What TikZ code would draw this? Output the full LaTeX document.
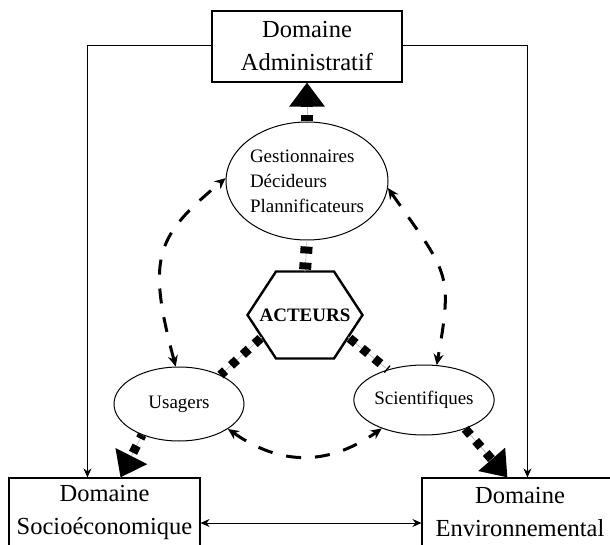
\documentclass[tikz,border=0pt]{standalone}
\usepackage{fontspec}
\setmainfont{Liberation Serif}
\usetikzlibrary{arrows.meta,shapes.geometric,calc}
\begin{document}
\begin{tikzpicture}[x=1pt,y=1pt,
  box/.style={draw, line width=1.1pt, inner sep=0pt, align=center, font=\fontsize{24.5}{33}\selectfont},
  ell/.style={draw, ellipse, line width=1pt, inner sep=0pt, font=\fontsize{19}{25}\selectfont},
  thinarr/.style={line width=1pt, -{Stealth[length=9pt,width=8pt]}},
  dbl/.style={line width=1pt, {Stealth[length=9pt,width=8pt]}-{Stealth[length=9pt,width=8pt]}},
  guide/.style={draw=gray!55, line width=0.7pt},
  squares/.style={line width=9pt, dash pattern=on 8pt off 8pt},
  bigtip/.style={-{Triangle[length=24pt,width=34pt]}},
  arc/.style={line width=3pt, dash pattern=on 15pt off 14pt, {Stealth[length=11pt,width=10pt]}-{Stealth[length=11pt,width=10pt]}},
  hexline/.style={line width=2.4pt, line join=miter}
]
\useasboundingbox (0,0) rectangle (610,544);

% boxes
\node[box, minimum width=190pt, minimum height=71pt] (admin) at (307,497.5) {Domaine\\Administratif};
\node[box, minimum width=191pt, minimum height=68pt] (socio) at (104.5,32) {Domaine\\Socioéconomique};
\node[box, minimum width=196pt, minimum height=68pt] (env) at (520,32) {Domaine\\Environnemental};

% ellipses
\node[ell, minimum width=162pt, minimum height=118pt, align=left] (gest) at (307,363) {Gestionnaires\\Décideurs\\Plannificateurs};
\node[ell, minimum width=130pt, minimum height=74pt] (usa) at (179,140) {Usagers};
\node[ell, minimum width=136pt, minimum height=70pt] (sci) at (424,144) {Scientifiques};

% hexagon
\node[font=\fontsize{19}{22}\selectfont\bfseries, inner sep=0pt] (act) at (305,229) {ACTEURS};
\draw[hexline] ($(act)+(-29,43.5)$) -- ($(act)+(29,43.5)$) -- ($(act)+(57.5,0)$)
  -- ($(act)+(29,-43.5)$) -- ($(act)+(-29,-43.5)$) -- ($(act)+(-57.5,0)$) -- cycle;
\coordinate (hN) at ($(act)+(0,43.5)$);
\coordinate (hSW) at ($(act)+(-43,-22)$);
\coordinate (hSE) at ($(act)+(43,-22)$);
\coordinate (socT) at ($(socio.north west)+(112,0)$);
\coordinate (envT) at ($(env.north west)+(86,0)$);
\coordinate (admB) at (gest.north |- admin.south);

% thin connectors
\draw[thinarr] ([yshift=1pt]admin.west) -| ($(socio.north west)+(79,0)$);
\draw[thinarr] ([yshift=1pt]admin.east) -| ($(env.north west)+(106,0)$);
\draw[dbl] ([yshift=-11pt]socio.east) -- ([yshift=-11pt]env.west);

% thick square connectors
\draw[guide] (gest.north) -- (admB);
\draw[squares, line width=12pt, dash phase=2pt, bigtip] (gest.north) -- (admB);
\draw[guide] (hN) -- (gest.south);
\draw[squares, line width=12pt, dash pattern=on 7pt off 9pt, dash phase=-2pt] (hN) -- (gest.south);
\draw[guide] (hSW) -- (usa.35);
\draw[squares, dash phase=-2pt] (hSW) -- (usa.35);
\draw[guide] (hSE) -- (sci.140);
\draw[squares, dash phase=-2pt] (hSE) -- (sci.140);
\draw[guide] (usa.220) -- (socT);
\draw[squares, dash phase=4pt, bigtip] (usa.220) -- (socT);
\draw[guide] (sci.-35) -- (envT);
\draw[squares, dash phase=0pt, bigtip] (sci.-35) -- (envT);

% dashed arcs
\draw[arc] (usa.95) .. controls +(105:115) and +(220:90) .. (gest.178);
\draw[arc] (gest.-5) .. controls +(-55:105) and +(80:95) .. (sci.70);
\draw[arc] (usa.-27) .. controls +(-35:65) and +(215:65) .. (sci.214);
\end{tikzpicture}
\end{document}
